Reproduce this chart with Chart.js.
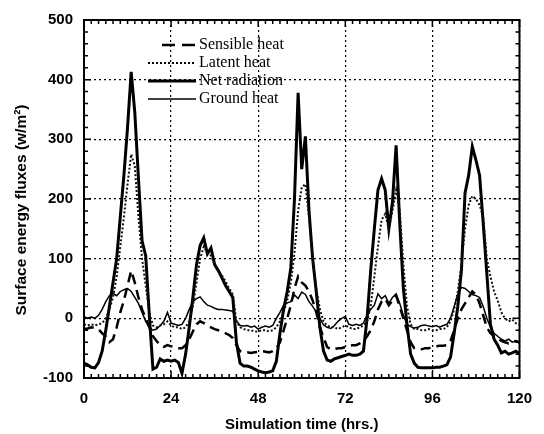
<!DOCTYPE html>
<html>
<head>
<meta charset="utf-8">
<script src="https://cdn.jsdelivr.net/npm/chart.js@4.4.1/dist/chart.umd.min.js"></script>
<style>
  html, body { margin: 0; padding: 0; background: #fff; }
  #wrap { width: 544px; height: 434px; }
</style>
</head>
<body>
<div id="wrap"><canvas id="fluxChart" width="544" height="434"></canvas></div>
<script>
// simulation hours 0..120
const hours = Array.from({ length: 121 }, (_, i) => i);

const sensibleHeat = [
  -18, -17, -15, -16, -18, -25, -30, -40, -35, -15,
  10, 30, 55, 80, 60, 35, 15, 0, -15, -30,
  -38, -45, -48, -45, -47, -48, -50, -50, -45, -35,
  -22, -10, -5, -8, -12, -15, -18, -20, -22, -25,
  -28, -33, -45, -55, -57, -57, -58, -57, -56, -55,
  -56, -57, -55, -50, -40, -20, 0, 22, 50, 70,
  60, 55, 45, 30, 10, -15, -32, -48, -52, -52,
  -50, -50, -48, -46, -45, -45, -42, -38, -30, -20,
  -5, 15, 28, 33, 22, 30, 38, 20, 0, -20,
  -40, -50, -52, -52, -50, -50, -48, -47, -46, -46,
  -45, -38, -20, 0, 15, 25, 35, 45, 40, 25,
  5, -15, -25, -30, -33, -38, -40, -42, -40, -38,
  -40
];

const latentHeat = [
  -10, -12, -10, -12, -10, -8, 0, 15, 35, 70,
  120, 170, 225, 275, 255, 170, 100, 55, 10, -12,
  -15, -12, -10, -5, -12, -15, -15, -18, -15, -5,
  20, 60, 100, 120, 110, 105, 90, 80, 72, 62,
  50, 40, -5, -15, -18, -20, -20, -22, -22, -20,
  -20, -22, -20, -15, -5, 10, 30, 60, 110, 180,
  220, 225, 170, 100, 50, 15, -5, -12, -15, -15,
  -18, -15, -12, -15, -18, -18, -15, -12, -5, 20,
  70, 120, 165, 175, 150, 180, 215, 180, 90, 20,
  -10, -18, -18, -20, -20, -18, -20, -20, -18, -18,
  -15, -5, 15, 45, 90, 150, 190, 205, 200, 190,
  170, 100, 70, 45, 30, 10, 0, -5, -2, -8,
  -10
];

const netRadiation = [
  -75, -78, -82, -83, -74, -55, -20, 20, 60, 100,
  170, 240, 320, 413, 345, 235, 130, 105, 5, -85,
  -82, -68, -72, -70, -72, -70, -74, -92, -60, -15,
  35, 90, 122, 135, 108, 118, 90, 80, 68, 55,
  45, 35, -40, -75, -80, -80, -82, -85, -88, -90,
  -91, -90, -88, -72, -25, 15, 45, 85, 200, 378,
  250, 305, 180, 100, 45, -15, -55, -70, -72, -68,
  -66, -64, -62, -60, -62, -62, -60, -55, 0, 80,
  150, 215, 234, 215, 150, 195, 290, 160, 50, -10,
  -60, -75, -82, -83, -83, -83, -83, -82, -82, -80,
  -78, -65, -25, 20, 80, 210, 240, 288, 265, 240,
  160, 75, -10, -35, -45, -58, -55, -60, -58, -55,
  -60
];

const groundHeat = [
  3, 0, 2, 0, 5, 15, 28, 38, 42, 38,
  45, 48, 50, 45, 35, 25, 10, -5, -15, -20,
  -18, -12, -5, 10, -8, -10, -12, -10, 0, 15,
  28, 33, 36, 28, 22, 20, 17, 15, 15, 14,
  13, 12, -4, -12, -13, -12, -15, -13, -18, -15,
  -13, -15, -12, 0, 10, 22, 26, 28, 39, 33,
  44, 40, 28, 20, 11, 0, -11, -15, -17, -12,
  -5, 0, 3, -10, -12, -10, -12, -8, 5, 15,
  22, 41, 33, 38, 25, 35, 41, 25, 5, -10,
  -14, -16, -15, -12, -11, -13, -14, -12, -15, -12,
  -10, 0, 20, 40, 52, 50, 45, 40, 38, 35,
  20, 0, -15, -25, -30, -35, -38, -35, -40, -38,
  -42
];

const seriesNames = ['Sensible heat', 'Latent heat', 'Net radiation', 'Ground heat'];
const yTitle = 'Surface energy fluxes (w/m\u00B2)';
const xTitle = 'Simulation time (hrs.)';

function toPoints(values) {
  return values.map((v, i) => ({ x: hours[i], y: v }));
}

// inward ticks on all four sides, frame, y title and legend
const frameAndLegend = {
  id: 'frameAndLegend',
  afterDraw(chart) {
    const { ctx, chartArea: a, scales: { x, y } } = chart;
    ctx.save();
    ctx.strokeStyle = '#000';
    ctx.lineWidth = 1.5;
    ctx.beginPath();
    for (let t = 0; t <= 120; t += 2) {
      const px = x.getPixelForValue(t);
      const len = t % 24 === 0 ? 7 : 4;
      ctx.moveTo(px, a.bottom); ctx.lineTo(px, a.bottom - len);
      ctx.moveTo(px, a.top); ctx.lineTo(px, a.top + len);
    }
    for (let v = -100; v <= 500; v += 20) {
      const py = y.getPixelForValue(v);
      const len = v % 100 === 0 ? 7 : 4;
      ctx.moveTo(a.left, py); ctx.lineTo(a.left + len, py);
      ctx.moveTo(a.right, py); ctx.lineTo(a.right - len, py);
    }
    ctx.stroke();
    ctx.lineWidth = 2;
    ctx.strokeRect(a.left, a.top, a.right - a.left, a.bottom - a.top);

    // y axis title
    ctx.save();
    ctx.translate(22, 210);
    ctx.rotate(-Math.PI / 2);
    ctx.fillStyle = '#000';
    ctx.font = 'bold 15.5px "Liberation Sans"';
    ctx.textAlign = 'center';
    ctx.textBaseline = 'middle';
    ctx.fillText(yTitle, 0, 0);
    ctx.restore();

    // legend
    const rows = [45, 63, 81, 99];
    ctx.font = '16px "Liberation Serif"';
    ctx.textBaseline = 'middle';
    ctx.textAlign = 'left';
    ctx.fillStyle = '#000';
    chart.data.datasets.forEach((ds, i) => {
      const yy = rows[i];
      ctx.beginPath();
      ctx.lineWidth = ds.borderWidth;
      ctx.setLineDash(i === 0 ? [13, 7] : (ds.borderDash || []));
      ctx.moveTo(i === 0 ? 162 : 148, yy);
      ctx.lineTo(196, yy);
      ctx.stroke();
      ctx.setLineDash([]);
      ctx.fillText(ds.label, 199, yy);
    });
    ctx.restore();
  }
};

new Chart(document.getElementById('fluxChart'), {
  type: 'line',
  data: {
    datasets: [
      { label: seriesNames[0], data: toPoints(sensibleHeat), borderColor: '#000', borderWidth: 2.5, borderDash: [10, 6] },
      { label: seriesNames[1], data: toPoints(latentHeat), borderColor: '#111', borderWidth: 2, borderDash: [2, 2] },
      { label: seriesNames[2], data: toPoints(netRadiation), borderColor: '#000', borderWidth: 3 },
      { label: seriesNames[3], data: toPoints(groundHeat), borderColor: '#000', borderWidth: 1.5 }
    ]
  },
  options: {
    responsive: false,
    animation: false,
    devicePixelRatio: 1,
    elements: { point: { radius: 0 }, line: { tension: 0 } },
    layout: { padding: { left: 0, right: 12, top: 17, bottom: 0 } },
    plugins: { legend: { display: false }, tooltip: { enabled: false } },
    scales: {
      x: {
        type: 'linear',
        min: 0, max: 120,
        afterFit(scale) { scale.height = 56; },
        ticks: { stepSize: 24, color: '#000', padding: 12, maxRotation: 0, font: { family: 'Liberation Sans', size: 15, weight: 'bold' } },
        grid: { color: '#000', lineWidth: 1.2, drawTicks: false },
        border: { display: false, dash: [2, 3] },
        title: { display: true, text: xTitle, color: '#000', padding: { top: 2, bottom: 0 }, font: { family: 'Liberation Sans', size: 15, weight: 'bold' } }
      },
      y: {
        min: -100, max: 500,
        afterFit(scale) { scale.width = 84; },
        ticks: { stepSize: 100, color: '#000', padding: 11, font: { family: 'Liberation Sans', size: 15, weight: 'bold' } },
        grid: { color: '#000', lineWidth: 1.2, drawTicks: false },
        border: { display: false, dash: [2, 3] }
      }
    }
  },
  plugins: [frameAndLegend]
});
</script>
</body>
</html>
